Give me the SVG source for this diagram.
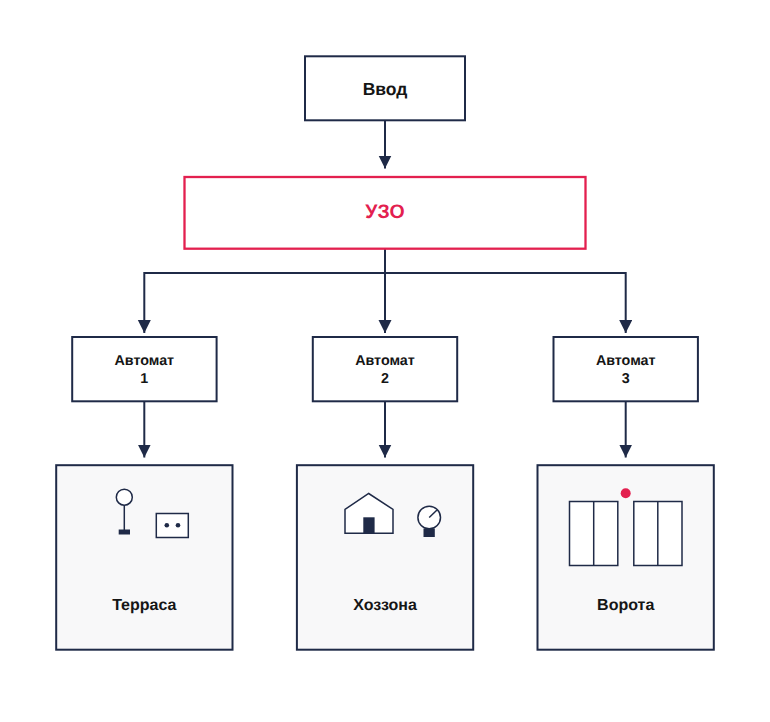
<svg xmlns="http://www.w3.org/2000/svg" width="770" height="722" viewBox="0 0 770 722">
<style>
.b{fill:#fff;stroke:#1f2a47;stroke-width:2}
.a{fill:#f8f8f9;stroke:#1f2a47;stroke-width:2}
.i{fill:#fff;stroke:#1f2a47;stroke-width:1.5}
.d{fill:#1f2a47}
.l{fill:none;stroke:#1f2a47;stroke-width:2}
text{font-family:"Liberation Sans",Arial,sans-serif;font-weight:700;fill:#151515;text-anchor:middle;text-rendering:geometricPrecision}
.t{font-size:16px}
.s{font-size:14.300px}
</style>
<defs>
<marker id="arr" markerUnits="userSpaceOnUse" markerWidth="14" markerHeight="14" refX="13" refY="6.500" orient="auto"><path d="M0 0L13 6.500L0 13Z" fill="#1f2a47"/></marker>
</defs>
<rect width="770" height="722" fill="#fff"/>
<g id="connectors">
<path class="l" d="M385 120.500V168.500" marker-end="url(#arr)"/>
<path class="l" d="M385 249V333" marker-end="url(#arr)"/>
<path class="l" d="M385 273H144.300V333" marker-end="url(#arr)"/>
<path class="l" d="M385 273H625.700V333" marker-end="url(#arr)"/>
<path class="l" d="M144.300 401V457.500" marker-end="url(#arr)"/>
<path class="l" d="M385 401V457.500" marker-end="url(#arr)"/>
<path class="l" d="M625.700 401V457.500" marker-end="url(#arr)"/>
</g>
<g id="vvod"><rect class="b" x="305" y="56.300" width="160" height="64"/><text x="385" y="95" font-size="17.500">Ввод</text></g>
<g id="uzo"><rect x="184.500" y="177" width="401" height="71.700" fill="#fff" stroke="#e3204f" stroke-width="2.300"/><text x="385" y="218" font-size="19.500" style="fill:#e3204f">УЗО</text></g>
<g id="avtomat1"><rect class="b" x="72.200" y="337" width="144.400" height="64.300"/><text x="144.300" y="365" class="s">Автомат</text><text x="144.300" y="383" class="s">1</text></g>
<g id="avtomat2"><rect class="b" x="312.800" y="337" width="144.400" height="64.300"/><text x="385" y="365" class="s">Автомат</text><text x="385" y="383" class="s">2</text></g>
<g id="avtomat3"><rect class="b" x="553.500" y="337" width="144.400" height="64.300"/><text x="625.700" y="365" class="s">Автомат</text><text x="625.700" y="383" class="s">3</text></g>
<g id="terrasa">
<rect class="a" x="56.200" y="465.200" width="176.300" height="184.500"/>
<circle class="i" cx="124.300" cy="497.200" r="8"/>
<path class="i" d="M124.300 505.200V530"/>
<rect class="d" x="118.700" y="529.500" width="11.300" height="5"/>
<rect class="i" x="156.300" y="513.500" width="32" height="24"/>
<circle class="d" cx="166.800" cy="525.300" r="2.300"/><circle class="d" cx="178" cy="525.300" r="2.300"/>
<text x="144.300" y="610" class="t">Терраса</text>
</g>
<g id="hozzona">
<rect class="a" x="296.900" y="465.200" width="176.300" height="184.500"/>
<path class="i" d="M345 533.300V509.300L368.700 493.500L393 509.300V533.300Z"/>
<rect class="d" x="363.300" y="517.300" width="11.300" height="16"/>
<circle class="i" cx="429.200" cy="517.500" r="11.300"/>
<path class="i" d="M429.200 517.500L437 510"/>
<rect class="d" x="423.500" y="528.500" width="11.300" height="8.500"/>
<text x="385" y="610" class="t">Хоззона</text>
</g>
<g id="vorota">
<rect class="a" x="537.500" y="465.200" width="176.300" height="184.500"/>
<rect class="i" x="569.500" y="501.500" width="48.300" height="64"/>
<path class="i" d="M593.700 501.500V565.500"/>
<rect class="i" x="633.800" y="501.500" width="48.200" height="64"/>
<path class="i" d="M657.800 501.500V565.500"/>
<circle cx="625.700" cy="493.300" r="5" fill="#e3204f"/>
<text x="625.700" y="610" class="t">Ворота</text>
</g>
</svg>
